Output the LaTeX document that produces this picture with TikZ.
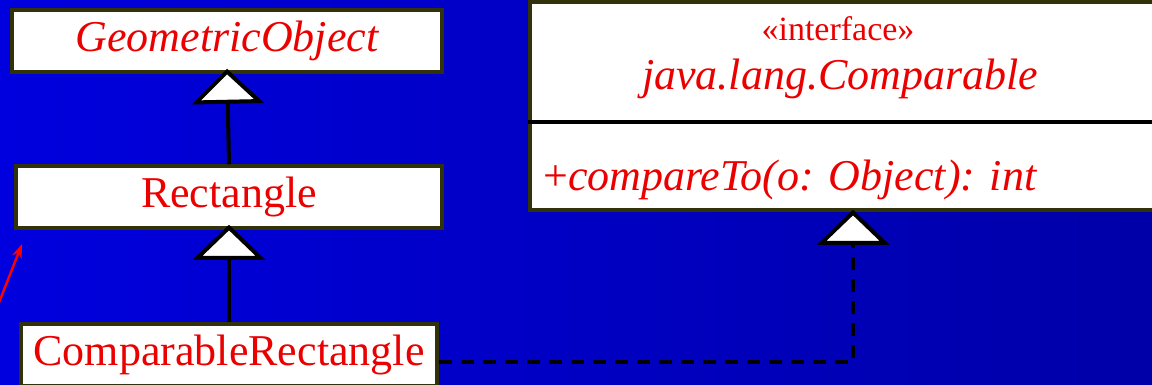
\documentclass[tikz,border=0pt]{standalone}
\usepackage{fontspec}
\setmainfont{Liberation Serif}
\usetikzlibrary{arrows.meta}
\definecolor{bgL}{RGB}{0,0,222}
\definecolor{bgM}{RGB}{0,0,214}
\definecolor{bgR}{RGB}{0,0,168}
\definecolor{edgec}{RGB}{50,50,10}
\definecolor{txt}{RGB}{235,0,0}
\begin{document}
\begin{tikzpicture}[x=1pt,y=-1pt,
  cls/.style={draw=edgec, line width=3.5pt, fill=white, inner sep=0pt, text=txt,
    font=\fontsize{44}{50}\selectfont},
  gen/.style={line width=4pt, -{Triangle[open,fill=white,length=35pt,width=72pt]}},
  real/.style={gen, dash pattern=on 13pt off 9pt},
  lbl/.style={text=txt, inner sep=0pt, anchor=base},
  big/.style={font=\fontsize{44}{50}\selectfont},
  small/.style={font=\fontsize{34}{40}\selectfont}]
\clip (0,0) rectangle (1152,384);
\shade[left color=bgL, middle color=bgM, right color=bgR] (0,0) rectangle (1152,384);
% left column
\node[cls, minimum width=430pt, minimum height=62pt] (go) at (227,41) {\itshape GeometricObject};
\node[cls, minimum width=426pt, minimum height=62pt] (rect) at (229,197) {Rectangle};
\node[cls, minimum width=416pt, minimum height=62pt] (cr) at (229,355) {ComparableRectangle};
% interface box
\node[cls, minimum width=640pt, minimum height=208pt] (iface) at (850,106) {};
\draw[line width=4pt] (iface.west |- 0,122) -- (iface.east |- 0,122);
\node[lbl, small] (st) at (838,40) {«interface»};
\node[lbl, big] (nm) at (840,89) {\itshape java.lang.Comparable};
\node[lbl, big, anchor=base west] (op) at (543,190) {+\textit{compareTo(o: Object): int}};
% connectors
\draw[gen] (rect.north) -- ([yshift=5pt]go.south);
\draw[gen] (cr.north) -- ([yshift=5pt]rect.south);
\coordinate (bend) at (853,362);
\path (iface.south) ++(0,-2) coordinate (ib);
\draw[real] ([yshift=-7pt]cr.east) -- (bend) -- (bend |- ib);
% red arrow
\coordinate (rs) at (-2,305);
\coordinate (re) at (22,244);
\draw[red, line width=2.4pt, -{Stealth[length=14pt,width=10pt]}] (rs) -- (re);
\end{tikzpicture}
\end{document}
